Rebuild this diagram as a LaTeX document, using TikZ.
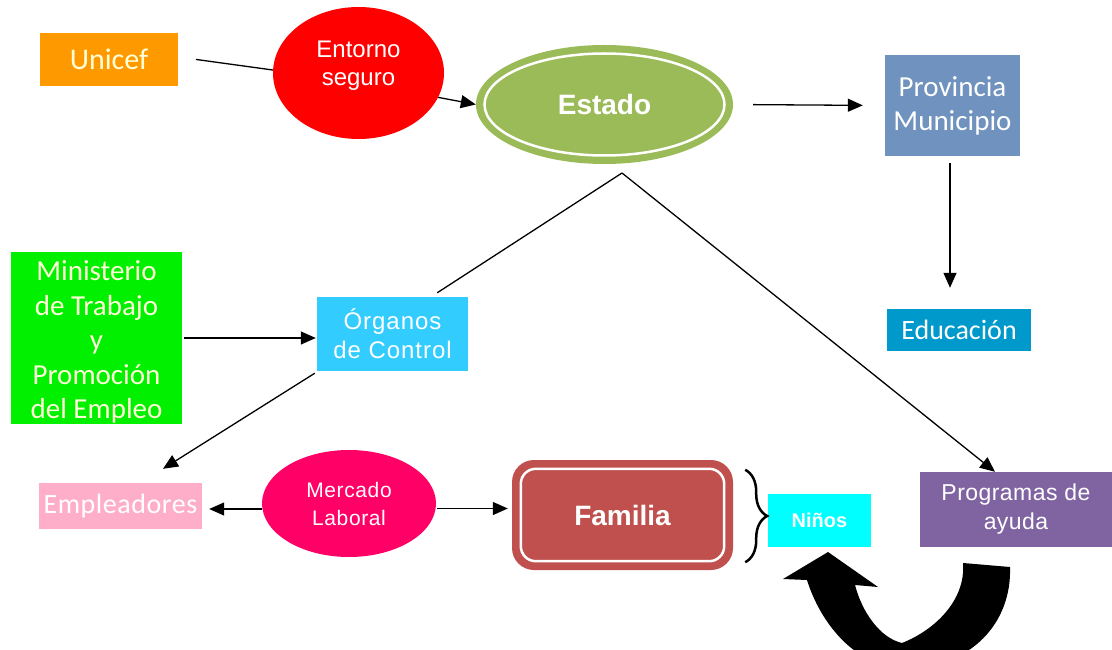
\documentclass[tikz,border=0pt]{standalone}
\usepackage{fontspec}
\setmainfont{Liberation Sans}
\newfontfamily\carl{Carlito}
\usetikzlibrary{shapes.geometric,arrows.meta,calc,decorations.pathreplacing}
\definecolor{cUnicef}{HTML}{FF9900}
\definecolor{cRed}{HTML}{FF0000}
\definecolor{cEst}{HTML}{9BBB59}
\definecolor{cProv}{HTML}{7092BE}
\definecolor{cEdu}{HTML}{0099CC}
\definecolor{cMin}{HTML}{00F000}
\definecolor{cOrg}{HTML}{33CCFF}
\definecolor{cEmp}{HTML}{FFAEC9}
\definecolor{cMer}{HTML}{FF0066}
\definecolor{cFam}{HTML}{C0504D}
\definecolor{cNin}{HTML}{00FFFF}
\definecolor{cProg}{HTML}{8064A2}
\definecolor{cCream}{HTML}{FFFFD8}
\tikzset{
  box/.style={rectangle, inner sep=0pt, text=white, align=center},
  ell/.style={ellipse, inner sep=0pt, text=white, align=center},
  arr/.style={line width=1.3pt, -{Triangle[length=15pt,width=13pt]}},
  plain/.style={line width=1.3pt},
}
\begin{document}
\begin{tikzpicture}[x=1pt,y=-1pt]
\useasboundingbox (0,0) rectangle (1112,650);
% nodes
\node[box, fill=cUnicef, minimum width=138pt, minimum height=53pt, text=cCream, font=\carl\fontsize{30}{34}\selectfont] (unicef) at (109,59.5) {Unicef};
\node[ell, fill=cRed, minimum width=171pt, minimum height=132pt, font=\fontsize{24}{28}\selectfont] (ent) at (358.5,73) {\raisebox{7pt}[\height][\depth]{\begin{tabular}{@{}c@{}}Entorno\\seguro\end{tabular}}};
\node[ell, fill=cEst, minimum width=257pt, minimum height=119pt, font=\bfseries\fontsize{28}{32}\selectfont] (est) at (604.5,104.5) {Estado};
\draw[white, line width=2.5pt] (est.center) ellipse [x radius=120, y radius=51];
\node[box, fill=cProv, minimum width=135pt, minimum height=101pt, font=\carl\fontsize{29}{34}\selectfont] (prov) at (952.5,105.5) {Provincia\\Municipio};
\node[box, fill=cEdu, minimum width=144pt, minimum height=42pt, font=\carl\fontsize{28}{30}\selectfont] (edu) at (959,330) {Educación};
\node[box, fill=cMin, minimum width=171pt, minimum height=170pt, text=cCream, font=\carl\fontsize{29}{34.5}\selectfont] (min) at (96.5,338) {\raisebox{-5pt}[\height][\depth]{\begin{tabular}{@{}c@{}}Ministerio\\de Trabajo\\y\\Promoción\\del Empleo\end{tabular}}};
\node[box, fill=cOrg, minimum width=151pt, minimum height=74pt, font=\addfontfeatures{LetterSpace=4}\fontsize{24}{29}\selectfont] (org) at (392.5,334) {Órganos\\de Control};
\node[box, fill=cEmp, minimum width=163pt, minimum height=46pt, font=\carl\addfontfeatures{LetterSpace=2}\fontsize{28}{30}\selectfont] (emp) at (120.5,506) {Empleadores};
\node[ell, fill=cMer, minimum width=174pt, minimum height=107pt, font=\addfontfeatures{LetterSpace=3}\fontsize{21}{28}\selectfont] (mer) at (349,503.5) {Mercado\\Laboral};
\node[box, fill=cFam, rounded corners=22pt, minimum width=221pt, minimum height=110pt, font=\bfseries\fontsize{28}{32}\selectfont] (fam) at (622.5,515) {Familia};
\draw[white, line width=2.5pt, rounded corners=15pt] ($(fam.north west)+(9,9)$) rectangle ($(fam.south east)+(-9,-9)$);
\node[box, fill=cNin, minimum width=103pt, minimum height=53pt, font=\bfseries\fontsize{20}{24}\selectfont] (nin) at (819.5,520.5) {Niños};
\node[box, fill=cProg, minimum width=192pt, minimum height=75pt, font=\addfontfeatures{LetterSpace=2}\fontsize{23}{29}\selectfont] (prog) at (1016,509.5) {Programas de\\ayuda};
\coordinate (apex) at (622,173);
% connectors
\draw[plain, shorten <=18pt] (unicef.east) ++(0,-2.5) coordinate (u1) (u1) -- (ent.178);
\draw[arr] (ent.-17) -- (est.west);
\draw[arr, shorten <=20pt, shorten >=22pt] (est.east) -- (prov.west);
\draw[arr, shorten <=7pt, shorten >=21pt] ([xshift=-2.5pt]prov.south) -- ([xshift=-2.5pt]prov.south |- edu.north);
\draw[arr, shorten <=2pt, shorten >=1pt] (min.east) -- (min.east -| org.west);
\draw[plain] (apex) -- ($(org.north east)+(-31,-4)$);
\draw[arr] (apex) -- ($(prog.north)+(-21,0)$);
\draw[arr] ($(org.south west)+(-2,2)$) -- ($(emp.north)+(42.5,-14)$);
\draw[arr, shorten >=7pt] ([yshift=-5.5pt]mer.west) -- ([yshift=-5.5pt]mer.west -| emp.east);
\draw[arr, shorten <=1pt, shorten >=4pt] ([yshift=-5pt]mer.east) -- ([yshift=-5pt]mer.east -| fam.west);
\draw[line width=2.5pt, decorate, decoration={brace, amplitude=22pt}] ($(fam.north east)+(12,10)$) -- ($(fam.south east)+(12,-8)$);
% big curved arrow
\begin{scope}
\clip (0,0) rectangle (1112,650);
\fill[black] (783,579) -- (828,552) -- (878,587) -- (855,585)
  .. controls (862,612) and (880,638) .. (902,643)
  .. controls (935,630) and (966,600) .. (963,563)
  -- (1010,567)
  .. controls (1012,622) and (972,668) .. (905,668)
  .. controls (855,668) and (820,622) .. (807,580) -- cycle;
\end{scope}
\end{tikzpicture}
\end{document}
